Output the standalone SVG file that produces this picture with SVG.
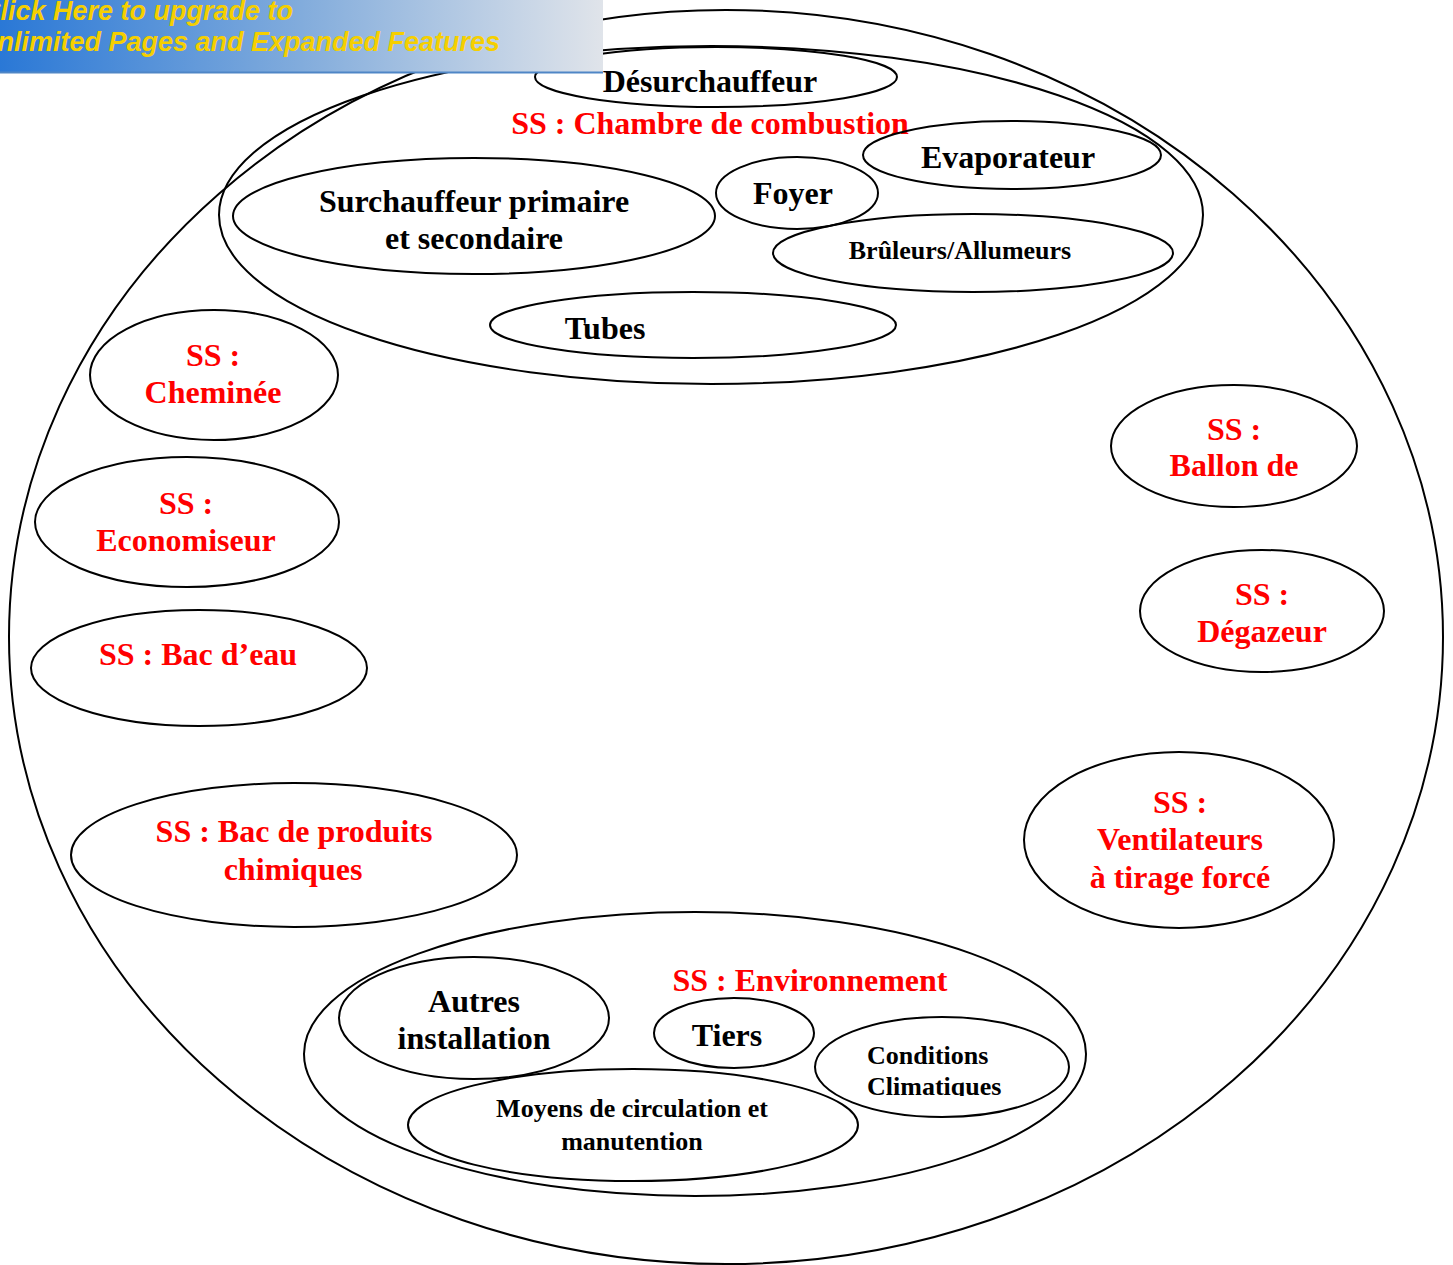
<svg xmlns="http://www.w3.org/2000/svg" width="1453" height="1265" viewBox="0 0 1453 1265">
<defs>
<style>
.e{fill:none;stroke:#000;stroke-width:2}
.t{font-family:"Liberation Serif","Times New Roman",serif;font-weight:bold;font-size:32px;text-anchor:middle;fill:#000}
.s{font-size:26px}
.r{fill:#ff0000}
.b{font-family:"Liberation Sans",Arial,sans-serif;font-weight:bold;font-style:italic;font-size:27px;fill:#f5cf00}
</style>
<linearGradient id="bg" x1="0" y1="0" x2="1" y2="0">
<stop offset="0" stop-color="#2a78d6"/>
<stop offset="0.5" stop-color="#82acdc"/>
<stop offset="1" stop-color="#e0e4ea"/>
</linearGradient>
<clipPath id="clipC"><rect x="800" y="1030" width="300" height="66"/></clipPath>
</defs>
<rect width="1453" height="1265" fill="#fff"/>
<g id="systeme"><ellipse class="e" cx="726" cy="637" rx="717" ry="627"/></g>
<g id="chambre">
<ellipse class="e" cx="711" cy="215" rx="492" ry="169"/>
<text class="t r" x="710" y="134">SS : Chambre de combustion</text>
</g>
<g id="desurchauffeur">
<ellipse class="e" cx="716" cy="77" rx="181" ry="30"/>
<text class="t" x="710" y="92">Désurchauffeur</text>
</g>
<g id="evaporateur">
<ellipse class="e" cx="1012" cy="155" rx="149" ry="34"/>
<text class="t" x="1008" y="168">Evaporateur</text>
</g>
<g id="foyer">
<ellipse class="e" cx="797" cy="193" rx="81" ry="36"/>
<text class="t" x="793" y="204">Foyer</text>
</g>
<g id="surchauffeur">
<ellipse class="e" cx="474" cy="216" rx="241" ry="58"/>
<text class="t" x="474" y="212">Surchauffeur primaire</text>
<text class="t" x="474" y="249">et secondaire</text>
</g>
<g id="bruleurs">
<ellipse class="e" cx="973" cy="253" rx="200" ry="39"/>
<text class="t s" x="960" y="259">Brûleurs/Allumeurs</text>
</g>
<g id="tubes">
<ellipse class="e" cx="693" cy="325" rx="203" ry="33"/>
<text class="t" x="605" y="339">Tubes</text>
</g>
<g id="cheminee">
<ellipse class="e" cx="214" cy="375" rx="124" ry="65"/>
<text class="t r" x="213" y="366">SS :</text>
<text class="t r" x="213" y="403">Cheminée</text>
</g>
<g id="economiseur">
<ellipse class="e" cx="187" cy="522" rx="152" ry="65"/>
<text class="t r" x="186" y="514">SS :</text>
<text class="t r" x="186" y="551">Economiseur</text>
</g>
<g id="bac-eau">
<ellipse class="e" cx="199" cy="668" rx="168" ry="58"/>
<text class="t r" x="198" y="665">SS : Bac d’eau</text>
</g>
<g id="bac-produits">
<ellipse class="e" cx="294" cy="855" rx="223" ry="72"/>
<text class="t r" x="294" y="842">SS : Bac de produits</text>
<text class="t r" x="293" y="880">chimiques</text>
</g>
<g id="ballon">
<ellipse class="e" cx="1234" cy="446" rx="123" ry="61"/>
<text class="t r" x="1234" y="440">SS :</text>
<text class="t r" x="1234" y="476">Ballon de</text>
</g>
<g id="degazeur">
<ellipse class="e" cx="1262" cy="611" rx="122" ry="61"/>
<text class="t r" x="1262" y="605">SS :</text>
<text class="t r" x="1262" y="642">Dégazeur</text>
</g>
<g id="ventilateurs">
<ellipse class="e" cx="1179" cy="840" rx="155" ry="88"/>
<text class="t r" x="1180" y="813">SS :</text>
<text class="t r" x="1180" y="850">Ventilateurs</text>
<text class="t r" x="1180" y="888">à tirage forcé</text>
</g>
<g id="environnement">
<ellipse class="e" cx="695" cy="1054" rx="391" ry="142"/>
<text class="t r" x="810" y="991">SS : Environnement</text>
</g>
<g id="autres">
<ellipse class="e" cx="474" cy="1018" rx="135" ry="61"/>
<text class="t" x="474" y="1012">Autres</text>
<text class="t" x="474" y="1049">installation</text>
</g>
<g id="tiers">
<ellipse class="e" cx="734" cy="1033" rx="80" ry="35"/>
<text class="t" x="727" y="1046">Tiers</text>
</g>
<g id="conditions">
<ellipse class="e" cx="942" cy="1067" rx="127" ry="50"/>
<g clip-path="url(#clipC)">
<text class="t s" x="867" y="1064" style="text-anchor:start">Conditions</text>
<text class="t s" x="867" y="1095" style="text-anchor:start">Climatiques</text>
</g>
</g>
<g id="moyens">
<ellipse class="e" cx="633" cy="1125" rx="225" ry="56"/>
<text class="t s" x="632" y="1117">Moyens de circulation et</text>
<text class="t s" x="632" y="1150">manutention</text>
</g>
<g id="connectors"></g>
<g id="banner">
<rect x="0" y="0" width="603" height="73" fill="url(#bg)"/>
<line x1="0" y1="72.5" x2="603" y2="72.5" stroke="#4f86c6" stroke-width="2"/>
<text class="b" x="-19" y="20">Click Here to upgrade to</text>
<text class="b" x="-22" y="51">Unlimited Pages and Expanded Features</text>
</g>
</svg>
